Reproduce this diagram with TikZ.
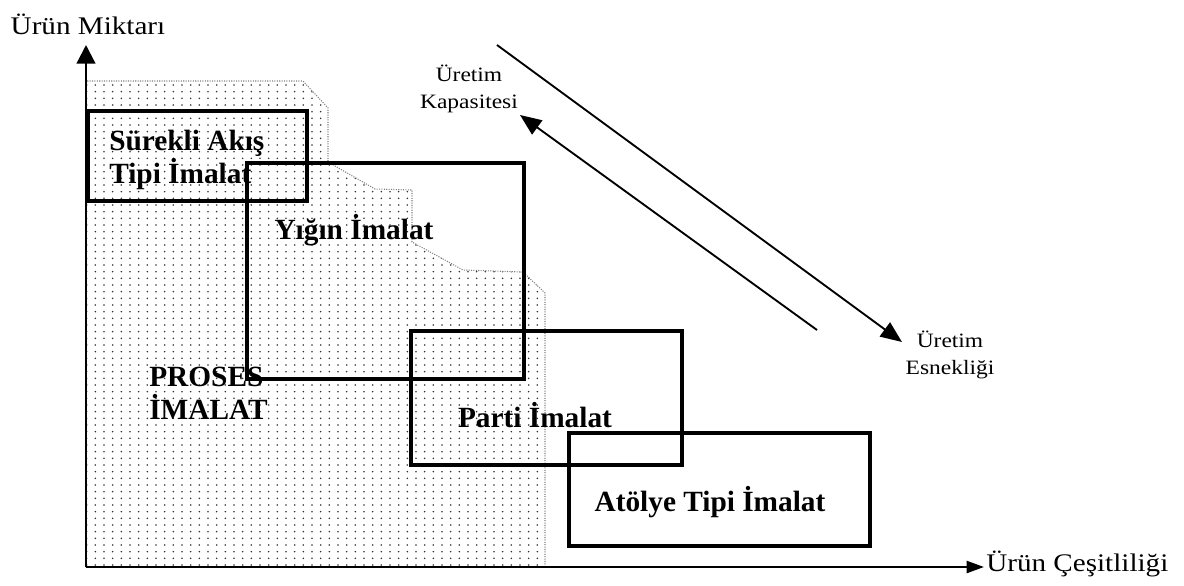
\documentclass[tikz,border=0pt]{standalone}
\usepackage{fontspec}
\setmainfont{Liberation Serif}
\newfontfamily\widefont{Liberation Serif}[FakeStretch=1.15]
\usepackage{tikz}
\usetikzlibrary{arrows.meta, patterns, fit}

\pgfdeclarepatternformonly{fielddots}{\pgfqpoint{-1pt}{-1pt}}{\pgfqpoint{1pt}{1pt}}{\pgfqpoint{6.5pt}{5pt}}{%
    \pgfpathcircle{\pgfqpoint{0pt}{0pt}}{0.65pt}\pgfusepath{fill}}

\tikzset{
    typebox/.style={
        rectangle, draw=black, line width=2.4pt, inner sep=0pt
    },
    box_label/.style={
        inner sep=0pt, align=left, font=\fontsize{22}{25}\selectfont\bfseries
    },
    axis_label/.style={
        inner sep=0pt, font=\widefont\fontsize{19}{22}\selectfont
    },
    note_label/.style={
        inner sep=0pt, align=center, font=\widefont\fontsize{15.3}{20.5}\selectfont
    },
    axis_arrow/.style={
        line width=1.7pt, draw=black
    },
    flow_arrow/.style={
        line width=1.4pt, -{Triangle[length=16pt, width=13pt]}, draw=black
    },
    process_area/.style={
        pattern=fielddots, pattern color=black!80, draw=black!50, densely dotted, line width=0.8pt
    }
}

\begin{document}
\begin{tikzpicture}[x=0.75pt, y=-0.75pt]
    \useasboundingbox (0,0) rectangle (1184,585);

    % Proses imalat alani (noktali)
    \path[process_area] (86,567) -- (86,81) -- (303,81) -- (328,108) -- (328,162)
        -- (375,189) -- (412,190) -- (412,242) -- (463,270) -- (523,272)
        -- (545,293) -- (545,567) -- cycle;

    % Eksenler
    \coordinate (origin) at (86,567);
    \coordinate (ytip) at (86,45);
    \coordinate (xtip) at (984,567);
    \draw[axis_arrow, -{Triangle[length=14pt, width=14pt]}] (origin) -- (ytip);
    \draw[axis_arrow, -{Triangle[length=13pt, width=9pt]}] (origin) -- (xtip);
    \node[axis_label] (miktar) at (88,24) {Ürün Miktarı};
    \node[axis_label, anchor=west] (cesit) at (986,564) {Ürün Çeşitliliği};

    % Imalat tipleri
    \node[typebox, fit={(88,111) (307,201)}] (surekli) {};
    \node[typebox, fit={(247,163) (524,379)}] (yigin) {};
    \node[typebox, fit={(411,331) (682,465)}] (parti) {};
    \node[typebox, fit={(569,433) (870,546)}] (atolye) {};

    \node[box_label, anchor=west] (surekli_txt) at (109,160) {Sürekli Akış\\Tipi İmalat};
    \node[box_label] (yigin_txt) at (354,230) {Yığın İmalat};
    \node[box_label, anchor=west] (proses_txt) at (149,393) {PROSES\\İMALAT};
    \node[box_label] (parti_txt) at (535,415) {Parti İmalat};
    \node[box_label] (atolye_txt) at (710,502) {Atölye Tipi İmalat};

    % Kapasite - esneklik oklari
    \node[note_label] (kapasite) at (469,89) {Üretim\\Kapasitesi};
    \node[note_label] (esneklik) at (950,355) {Üretim\\Esnekliği};
    \coordinate (flexstart) at (497,45);
    \coordinate (flexend) at (902,342);
    \coordinate (capstart) at (817,330);
    \coordinate (capend) at (520,115);
    \draw[flow_arrow] (flexstart) -- (flexend);
    \draw[flow_arrow] (capstart) -- (capend);
\end{tikzpicture}
\end{document}
